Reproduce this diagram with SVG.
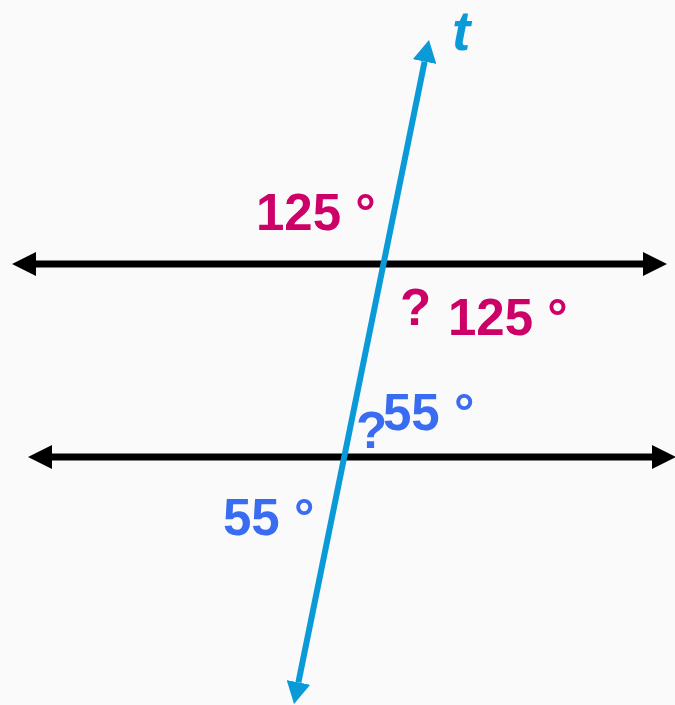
<svg xmlns="http://www.w3.org/2000/svg" width="675" height="705" viewBox="0 0 675 705">
  <defs>
    <marker id="arrBlack" markerUnits="userSpaceOnUse" markerWidth="24" markerHeight="24" viewBox="0 0 24 24" refX="0" refY="12" orient="auto-start-reverse">
      <path d="M0,0 L24,12 L0,24 z" fill="#000000"/>
    </marker>
    <marker id="arrBlue" markerUnits="userSpaceOnUse" markerWidth="22" markerHeight="24" viewBox="0 0 22 24" refX="0" refY="12" orient="auto-start-reverse">
      <path d="M0,0 L22,12 L0,24 z" fill="#0a9ad8"/>
    </marker>
    <style>
      .lbl { font-family: "Liberation Sans", Arial, sans-serif; font-weight: bold; font-size: 51px; }
      .mag { fill: #cc0066; }
      .blu { fill: #3a6cf2; }
      .parallel { stroke: #000000; stroke-width: 7; fill: none; marker-start: url(#arrBlack); marker-end: url(#arrBlack); }
      .trans { stroke: #0a9ad8; stroke-width: 6; fill: none; marker-start: url(#arrBlue); marker-end: url(#arrBlue); }
    </style>
  </defs>
  <rect x="0" y="0" width="675" height="705" fill="#fafafa"/>
  <g id="connectors">
    <line id="line1" class="parallel" x1="36" y1="264" x2="643" y2="264"/>
    <line id="line2" class="parallel" x1="52" y1="457" x2="652" y2="457"/>
    <line id="transversal" class="trans" x1="424.6" y1="61.6" x2="298.4" y2="682.4"/>
  </g>
  <g id="label-t">
    <text x="452" y="50" font-family="'Liberation Sans', Arial, sans-serif" font-weight="bold" font-style="italic" font-size="55" fill="#0a9ad8">t</text>
  </g>
  <g id="angle-125-top">
    <text class="lbl mag" x="256" y="230">125 °</text>
  </g>
  <g id="angle-q-125">
    <text class="lbl mag" x="400" y="325">?</text>
    <text class="lbl mag" x="448" y="335">125 °</text>
  </g>
  <g id="angle-q-55">
    <text class="lbl blu" x="356" y="448">?</text>
    <text class="lbl blu" x="383" y="430">55 °</text>
  </g>
  <g id="angle-55-bottom">
    <text class="lbl blu" x="223" y="535">55 °</text>
  </g>
</svg>
